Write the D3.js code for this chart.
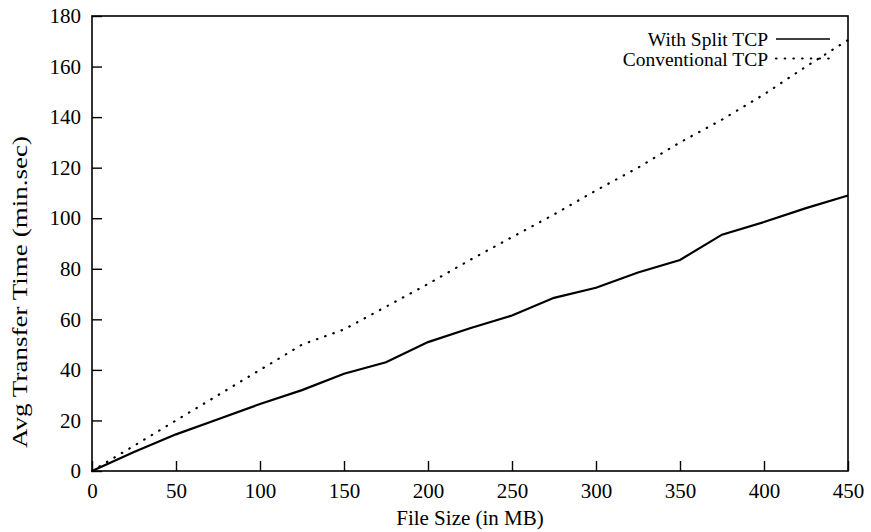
<!DOCTYPE html>
<html lang="en">
<head>
    <meta charset="UTF-8">
    <title>Avg Transfer Time</title>
    <script src="https://d3js.org/d3.v7.min.js"></script>
    <style>
        body {
            margin: 0;
            background-color: #ffffff;
        }
        #graph text {
            font-family: "Liberation Serif", "Times New Roman", serif;
            fill: #000;
        }
    </style>
</head>
<body>
    <svg id="graph"></svg>

    <script>
        // values
        const fileSizes = [0, 25, 50, 75, 100, 125, 150, 175, 200, 225, 250, 275, 300, 325, 350, 375, 400, 425, 450];
        const splitTcp = [0, 7.5, 14.5, 20.5, 26.5, 32, 38.5, 43, 51, 56.5, 61.5, 68.5, 72.5, 78.5, 83.5, 93.5, 98.5, 104, 109];
        const conventionalTcp = [0, 10, 20, 30, 40, 50, 56, 65, 74, 83.5, 92.5, 101.5, 111, 120, 130, 139, 149, 160, 170.5];
        const xTicks = [0, 50, 100, 150, 200, 250, 300, 350, 400, 450];
        const yTicks = [0, 20, 40, 60, 80, 100, 120, 140, 160, 180];
        const seriesNames = ["With Split TCP", "Conventional TCP"];

        const svgWidth = 871;
        const svgHeight = 532;
        const margin = { top: 16, right: 23, bottom: 61, left: 92 };
        const width = svgWidth - margin.left - margin.right;
        const height = svgHeight - margin.top - margin.bottom;

        const svg = d3.select("#graph")
            .attr("width", svgWidth)
            .attr("height", svgHeight);

        const chart = svg.append("g")
            .attr("transform", `translate(${margin.left},${margin.top})`);

        const xScale = d3.scaleLinear().domain([0, 450]).range([0, width]);
        const yScale = d3.scaleLinear().domain([0, 180]).range([height, 0]);

        // axes with inward ticks
        const xAxis = chart.append("g")
            .attr("transform", `translate(0,${height})`)
            .call(d3.axisBottom(xScale).tickValues(xTicks).tickSize(-10).tickPadding(12));
        const yAxis = chart.append("g")
            .call(d3.axisLeft(yScale).tickValues(yTicks).tickSize(-10).tickPadding(11));

        [xAxis, yAxis].forEach(a => {
            a.select(".domain").remove();
            a.selectAll("line").attr("stroke", "#000").attr("stroke-width", 1.4);
            a.selectAll("text").style("font-size", "21px").attr("fill", "#000");
        });

        // frame
        chart.append("rect")
            .attr("width", width)
            .attr("height", height)
            .attr("fill", "none")
            .attr("stroke", "#000")
            .attr("stroke-width", 1.6);

        // lines
        const line = d3.line()
            .x((d, i) => xScale(fileSizes[i]))
            .y(d => yScale(d));

        chart.append("path")
            .datum(splitTcp)
            .attr("d", line)
            .attr("fill", "none")
            .attr("stroke", "#000")
            .attr("stroke-width", 2.2);

        chart.append("path")
            .datum(conventionalTcp)
            .attr("d", line)
            .attr("fill", "none")
            .attr("stroke", "#000")
            .attr("stroke-width", 2.2)
            .attr("stroke-linecap", "round")
            .attr("stroke-dasharray", "0.5,8.2");

        // legend
        const legend = chart.append("g");
        seriesNames.forEach((name, i) => {
            const ly = 23 + i * 19.5;
            legend.append("text")
                .attr("x", 676)
                .attr("y", ly + 7)
                .attr("text-anchor", "end")
                .style("font-size", "19.5px")
                .text(name);
            legend.append("line")
                .attr("x1", 684)
                .attr("x2", 738)
                .attr("y1", ly)
                .attr("y2", ly)
                .attr("stroke", "#000")
                .attr("stroke-width", i === 0 ? 1.7 : 2.2)
                .attr("stroke-linecap", i === 0 ? "butt" : "round")
                .attr("stroke-dasharray", i === 0 ? null : "0.5,8.2");
        });

        // axis titles
        svg.append("text")
            .attr("x", margin.left + width / 2)
            .attr("y", 525)
            .attr("text-anchor", "middle")
            .style("font-size", "21px")
            .text("File Size (in MB)");

        // the scanned label runs a bit longer than the plain font
        svg.append("text")
            .attr("transform", "translate(27,292) rotate(-90)")
            .attr("text-anchor", "middle")
            .attr("textLength", 312)
            .attr("lengthAdjust", "spacingAndGlyphs")
            .style("font-size", "21px")
            .text("Avg Transfer Time (min.sec)");
    </script>
</body>
</html>
